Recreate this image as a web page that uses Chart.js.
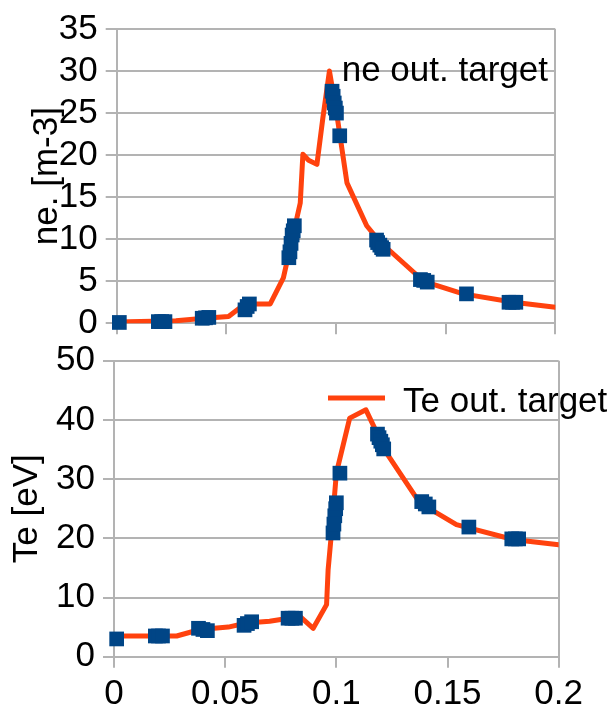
<!DOCTYPE html>
<html>
<head>
<meta charset="utf-8">
<title>ne / Te out. target</title>
<script src="https://cdn.jsdelivr.net/npm/chart.js@4/dist/chart.umd.min.js"></script>
<style>
    html, body { margin: 0; padding: 0; background: #fff; }
    #wrap { position: relative; width: 612px; height: 713px; overflow: hidden; }
    #wrap canvas { position: absolute; left: 0; top: 0; }
</style>
</head>
<body>
<div id="wrap">
    <canvas id="neChart" width="612" height="713"></canvas>
    <canvas id="teChart" width="612" height="713"></canvas>
</div>
<script>
// x positions shared by both panels
const xTickLabels = ['0', '0.05', '0.1', '0.15', '0.2'];

// ne: simulated profile (line)
const neLineX = [0, 0.027, 0.040, 0.051, 0.0585, 0.070, 0.076, 0.0837, 0.0849, 0.0875, 0.0913, 0.094, 0.097, 0.1004, 0.105, 0.114, 0.120, 0.140, 0.158, 0.181, 0.2];
const neLineY = [0.15, 0.3, 0.6, 0.8, 2.3, 2.3, 5.4, 14.3, 20.1, 19.4, 18.9, 24.4, 30.0, 24.8, 16.7, 11.6, 9.7, 5.0, 3.5, 2.5, 1.9];
// ne: measured points (markers)
const neMarkX = [0.0012, 0.019, 0.0205, 0.022, 0.039, 0.0405, 0.042, 0.0585, 0.0595, 0.0605, 0.0785, 0.079, 0.0795, 0.080, 0.0805, 0.081, 0.0982, 0.0987, 0.0992, 0.0997, 0.1002, 0.1017, 0.1185, 0.119, 0.120, 0.1208, 0.1215, 0.1385, 0.140, 0.1416, 0.1595, 0.1789, 0.1805, 0.182];
const neMarkY = [0.1, 0.2, 0.2, 0.2, 0.6, 0.65, 0.7, 1.6, 2.0, 2.3, 7.8, 8.5, 9.5, 10.5, 11.0, 11.6, 27.6, 27.0, 26.2, 25.6, 25.0, 22.3, 9.9, 9.6, 9.3, 9.0, 8.8, 5.2, 5.1, 4.9, 3.5, 2.5, 2.5, 2.5];

// Te: simulated profile (line)
const teLineX = [0, 0.0282, 0.0387, 0.0514, 0.0596, 0.070, 0.0836, 0.0896, 0.0956, 0.0963, 0.0978, 0.100, 0.106, 0.1133, 0.1226, 0.1375, 0.154, 0.1795, 0.2];
const teLineY = [3.5, 3.5, 4.6, 5.0, 5.7, 6.0, 6.8, 4.8, 8.8, 14.7, 20.9, 31.0, 40.3, 41.7, 34.4, 26.0, 22.3, 19.8, 18.9];
// Te: measured points (markers)
const teMarkX = [0.0012, 0.0186, 0.020, 0.0218, 0.038, 0.040, 0.042, 0.0585, 0.060, 0.0619, 0.0783, 0.080, 0.0816, 0.0985, 0.0989, 0.0993, 0.0997, 0.100, 0.1016, 0.1185, 0.1192, 0.120, 0.1207, 0.1213, 0.1384, 0.140, 0.1416, 0.1596, 0.1789, 0.1805, 0.182];
const teMarkY = [3.0, 3.5, 3.5, 3.5, 4.8, 4.6, 4.4, 5.3, 5.6, 5.9, 6.5, 6.5, 6.5, 20.9, 22.4, 23.8, 25.0, 26.0, 31.0, 37.6, 37.0, 36.4, 35.8, 35.1, 26.2, 25.8, 25.3, 21.9, 19.9, 19.9, 19.9];

const neTicks = { min: 0, max: 35, step: 5 };
const teTicks = { min: 0, max: 50, step: 10 };

const ORANGE = '#ff420e';
const BLUE = '#004586';
const GRID = '#b3b3b3';
const FONT = 'Liberation Sans, Arial, sans-serif';

function pts(xs, ys) {
    return xs.map((x, i) => ({ x, y: ys[i] }));
}

function xLabel(v) {
    const i = Math.round(v / 0.05);
    return xTickLabels[i] ?? '';
}

// legend drawn inside the plot the way the original sheet had it
const outLegend = {
    id: 'outLegend',
    afterDraw(chart, args, opts) {
        const ds = chart.data.datasets.find(d => d.showLine);
        const ctx = chart.ctx;
        ctx.save();
        if (opts.line) {
            ctx.strokeStyle = ds.borderColor;
            ctx.lineWidth = 5;
            ctx.beginPath();
            ctx.moveTo(opts.lineX0, opts.lineY);
            ctx.lineTo(opts.lineX1, opts.lineY);
            ctx.stroke();
        }
        ctx.fillStyle = '#000';
        ctx.font = '35px ' + FONT;
        ctx.textBaseline = 'alphabetic';
        ctx.fillText(ds.label, opts.x, opts.y);
        ctx.restore();
    }
};

function panelConfig(p) {
    return {
        type: 'scatter',
        data: {
            datasets: [{
                label: 'measured',
                data: pts(p.markX, p.markY),
                showLine: false,
                pointStyle: 'rect',
                pointRadius: 10.4,
                pointBorderWidth: 0,
                backgroundColor: BLUE,
                borderColor: BLUE,
                clip: false,
                order: 0
            }, {
                label: p.label,
                data: pts(p.lineX, p.lineY),
                showLine: true,
                borderColor: ORANGE,
                borderWidth: 5,
                borderJoinStyle: 'round',
                borderCapStyle: 'round',
                pointRadius: 0,
                tension: 0,
                order: 1
            }]
        },
        options: {
            responsive: false,
            animation: false,
            layout: { padding: p.padding },
            plugins: {
                legend: { display: false },
                tooltip: { enabled: false },
                outLegend: p.legend
            },
            scales: {
                x: {
                    type: 'linear',
                    min: 0,
                    max: 0.2,
                    afterFit: s => { s.height = p.xHeight; },
                    afterBuildTicks: s => { s.ticks = xTickLabels.map((t, i) => ({ value: i * 0.05 })); },
                    grid: {
                        color: c => (c.tick && Math.abs(c.tick.value - 0.2) < 1e-9) ? GRID : 'rgba(0,0,0,0)',
                        tickColor: GRID,
                        lineWidth: 2,
                        tickLength: 11
                    },
                    border: { display: true, color: GRID, width: 2 },
                    ticks: {
                        display: p.showX,
                        autoSkip: false,
                        color: '#000',
                        padding: 6,
                        maxRotation: 0,
                        font: { size: 35, family: FONT },
                        callback: v => xLabel(v)
                    }
                },
                y: {
                    min: p.ticks.min,
                    max: p.ticks.max,
                    afterFit: s => { s.width = p.yWidth; },
                    grid: { color: GRID, lineWidth: 2, tickLength: 11 },
                    border: { display: true, color: GRID, width: 2 },
                    ticks: {
                        stepSize: p.ticks.step,
                        autoSkip: false,
                        color: '#000',
                        padding: 8,
                        font: { size: 35, family: FONT }
                    },
                    title: {
                        display: true,
                        text: p.yTitle,
                        color: '#000',
                        padding: { top: p.titlePad, bottom: 0 },
                        font: { size: 35, family: FONT }
                    }
                }
            }
        },
        plugins: [outLegend]
    };
}

new Chart(document.getElementById('neChart'), panelConfig({
    label: 'ne out. target',
    yTitle: 'ne. [m-3]',
    lineX: neLineX, lineY: neLineY,
    markX: neMarkX, markY: neMarkY,
    ticks: neTicks,
    showX: false,
    xHeight: 10,
    yWidth: 116.7,
    titlePad: 26,
    padding: { left: 0, top: 22.7, right: 56.7, bottom: 379.7 },
    legend: { line: false, x: 341.7, y: 81 }
}));

new Chart(document.getElementById('teChart'), panelConfig({
    label: 'Te out. target',
    yTitle: 'Te [eV]',
    lineX: teLineX, lineY: teLineY,
    markX: teMarkX, markY: teMarkY,
    ticks: teTicks,
    showX: true,
    xHeight: 56.3,
    yWidth: 114,
    titlePad: 6,
    padding: { left: 0, top: 360.7, right: 53.3, bottom: 0 },
    legend: { line: true, lineX0: 328, lineX1: 385, lineY: 398, x: 403, y: 411.7 }
}));
</script>
</body>
</html>
